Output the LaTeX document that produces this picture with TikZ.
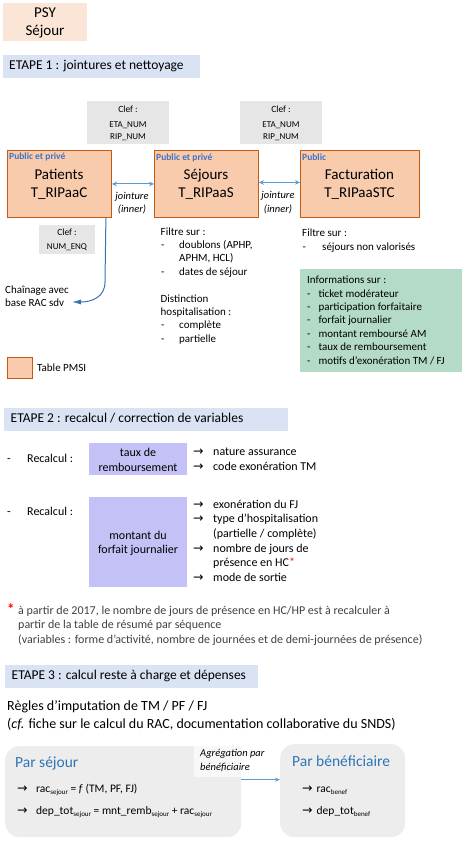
\documentclass[tikz,border=0pt]{standalone}
\usepackage{fontspec}
\setmainfont{Carlito}
\newfontfamily\symf{DejaVu Sans}
\usetikzlibrary{arrows.meta}
\definecolor{psyfill}{HTML}{FBE5D6}
\definecolor{etape}{HTML}{DAE3F3}
\definecolor{clef}{HTML}{E7E6E6}
\definecolor{tblfill}{HTML}{F8CBAD}
\definecolor{tbldraw}{HTML}{C55A11}
\definecolor{pubblue}{HTML}{4472C4}
\definecolor{jointblue}{HTML}{5B9BD5}
\definecolor{chainblue}{HTML}{3A72B0}
\definecolor{greenbox}{HTML}{B3DBC8}
\definecolor{lav}{HTML}{C3C1F5}
\definecolor{grayb}{HTML}{EDEDED}
\definecolor{lblbg}{HTML}{F8F8F8}
\definecolor{parblue}{HTML}{2E75B6}
\definecolor{fngray}{HTML}{404040}
\newcommand\fs[2]{\fontsize{#1}{#2}\selectfont}
\newcommand\ar{{\symf\fontsize{12.5}{14}\selectfont →}}
\newcommand\sbs[1]{\raisebox{-2pt}{\fontsize{7}{8}\selectfont #1}}
\begin{document}
\begin{tikzpicture}[x=1pt,y=-1pt,
  txt/.style={anchor=west,inner sep=0pt},
  f11/.style={font=\fs{11}{13.4}},
  f12/.style={font=\fs{12}{14.6}},
  rbox/.style={anchor=north west,inner sep=0pt},
  head/.style={rbox,fill=etape,minimum height=23pt},
  tbl/.style={rbox,fill=tblfill,draw=tbldraw,line width=0.9pt,minimum width=104pt,minimum height=67pt},
  tbltxt/.style={font=\fs{15}{18},align=center,inner sep=0pt},
  pub/.style={txt,font=\bfseries\fs{9.5}{11},text=pubblue},
  clefbox/.style={rbox,fill=clef},
  cleft/.style={inner sep=0pt,font=\fs{9.5}{11}},
  lavbox/.style={rbox,fill=lav,minimum width=98pt},
  joint/.style={draw=jointblue,line width=1pt,{Stealth[length=5pt,width=4.5pt]}-{Stealth[length=5pt,width=4.5pt]}},
  aggr/.style={draw=jointblue,line width=0.8pt,-{Stealth[length=5pt,width=4pt]}},
  chain/.style={draw=chainblue,line width=1pt,-{Latex[length=9pt,width=5pt]}},
  rounded/.style={rbox,fill=grayb,rounded corners=14pt}]
\useasboundingbox (0,0) rectangle (466,843);

% title
\node[rbox,fill=psyfill,minimum width=84pt,minimum height=38pt] (psy) at (3,3) {};
\node[font=\fs{15}{17.6},align=center,inner sep=0pt] (psyt) at (45,23) {PSY\\Séjour};

% ETAPE 1
\node[head,minimum width=197pt] (e1) at (3,55) {};
\node[txt,font=\fs{13.5}{16}] (e1t) at (9,66.5) {\strut ETAPE 1 : jointures et nettoyage};

\node[clefbox,minimum width=82pt,minimum height=43pt] (c1) at (87,101) {};
\node[cleft] (c1a) at (128,109) {Clef :};
\node[cleft,font=\fs{9}{11}] (c1b) at (128,125) {ETA\_NUM};
\node[cleft,font=\fs{9}{11}] (c1c) at (128,137) {RIP\_NUM};
\node[clefbox,minimum width=82pt,minimum height=43pt] (c2) at (240,101) {};
\node[cleft] (c2a) at (281,109) {Clef :};
\node[cleft,font=\fs{9}{11}] (c2b) at (281,125) {ETA\_NUM};
\node[cleft,font=\fs{9}{11}] (c2c) at (281,137) {RIP\_NUM};

\node[tbl] (pat) at (7,150) {};
\node[tbl] (sej) at (154,150) {};
\node[tbl,minimum width=119pt] (fac) at (300,150) {};
\node[pub] (p1) at (9,157) {Public et privé};
\node[pub] (p2) at (156,157.5) {Public et privé};
\node[pub] (p3) at (302,157) {Public};
\node[tbltxt] (patt) at (59,184.5) {Patients\\T\_RIPaaC};
\node[tbltxt] (sejt) at (206,184.5) {Séjours\\T\_RIPaaS};
\node[tbltxt] (fact) at (359.5,184.5) {Facturation\\T\_RIPaaSTC};

\draw[joint] (pat.east) -- (sej.west);
\draw[joint] ([yshift=1.5pt]sej.east) -- ([yshift=1.5pt]fac.west);
\node[inner sep=0pt,font=\itshape\fs{10.5}{13}] (j1a) at (132,197) {\strut jointure};
\node[inner sep=0pt,font=\itshape\fs{10.5}{13}] (j1b) at (132,210) {\strut (inner)};
\node[inner sep=0pt,font=\itshape\fs{10.5}{13}] (j2a) at (278,196) {\strut jointure};
\node[inner sep=0pt,font=\itshape\fs{10.5}{13}] (j2b) at (278,210) {\strut (inner)};

\node[clefbox,minimum width=56pt,minimum height=29pt] (c3) at (39,225) {};
\node[cleft] (c3a) at (67,232.5) {Clef :};
\node[cleft,font=\fs{9}{11}] (c3b) at (67,247.5) {NUM\_ENQ};

\coordinate (chainEnd) at (72,302);
\draw[chain] ([xshift=-6pt]pat.south east) -- (105,282) .. controls (105,297) and (92,302) .. (chainEnd);
\node[txt,f11] (ch1) at (5,290.7) {\strut Chaînage avec};
\node[txt,f11] (ch2) at (5,304.1) {\strut base RAC sdv};

% Séjours filters
\node[txt,f11] (s1) at (160.5,232.5) {\strut Filtre sur :};
\node[txt,f11] (s2d) at (161,245.9) {\strut -};
\node[txt,f11] (s2) at (179,245.9) {\strut doublons (APHP,};
\node[txt,f11] (s3) at (179,259.3) {\strut APHM, HCL)};
\node[txt,f11] (s4d) at (161,272.7) {\strut -};
\node[txt,f11] (s4) at (179,272.7) {\strut dates de séjour};
\node[txt,f11] (s5) at (160.5,299.5) {\strut Distinction};
\node[txt,f11] (s6) at (160.5,312.9) {\strut hospitalisation :};
\node[txt,f11] (s7d) at (161,326.3) {\strut -};
\node[txt,f11] (s7) at (179,326.3) {\strut complète};
\node[txt,f11] (s8d) at (161,339.7) {\strut -};
\node[txt,f11] (s8) at (179,339.7) {\strut partielle};

% Facturation filters
\node[txt,f11] (fa1) at (302,234) {\strut Filtre sur :};
\node[txt,f11] (fa2d) at (302.5,247.4) {\strut -};
\node[txt,f11] (fa2) at (322,247.4) {\strut séjours non valorisés};

\node[rbox,fill=greenbox,minimum width=162pt,minimum height=103pt] (gb) at (300,269) {};
\node[txt,f11] (g0) at (307,281) {\strut Informations sur :};
\foreach \t [count=\i] in {ticket modérateur,participation forfaitaire,forfait journalier,montant remboursé AM,taux de remboursement,motifs d’exonération TM / FJ}{
  \node[txt,f11] (gd\i) at (307,281+13.4*\i) {\strut -};
  \node[txt,f11] (g\i) at (318.3,281+13.4*\i) {\strut \t};
}

\node[tbl,minimum width=25pt,minimum height=21pt] (leg) at (7,357) {};
\node[txt,f11] (legt) at (37,368.5) {\strut Table PMSI};

% ETAPE 2
\node[head,minimum width=284pt] (e2) at (4,408) {};
\node[txt,font=\fs{13.5}{16}] (e2t) at (10.5,419.5) {\strut ETAPE 2 : recalcul / correction de variables};

\node[txt,f12] (r1d) at (7,460) {\strut -};
\node[txt,f12] (r1) at (27,460) {\strut Recalcul :};
\node[txt,f12] (r2d) at (7,513) {\strut -};
\node[txt,f12] (r2) at (27,513) {\strut Recalcul :};

\node[lavbox,minimum height=32pt] (lv1) at (89,443) {};
\node[font=\fs{12}{15},align=center,inner sep=0pt] (lv1t) at (138,460) {taux de\\remboursement};
\node[lavbox,minimum height=90pt] (lv2) at (89,497) {};
\node[font=\fs{12}{14},align=center,inner sep=0pt] (lv2t) at (138,543.5) {montant du\\forfait journalier};

\node[txt,f12] (a1) at (193,452.3) {\strut\ar};
\node[txt,f12] (t1) at (213,452.3) {\strut nature assurance};
\node[txt,f12] (a2) at (193,467.3) {\strut\ar};
\node[txt,f12] (t2) at (213,467.3) {\strut code exonération TM};

\node[txt,f12] (a3) at (193,505.3) {\strut\ar};
\node[txt,f12] (t3) at (213,505.3) {\strut exonération du FJ};
\node[txt,f12] (a4) at (193,519.9) {\strut\ar};
\node[txt,f12] (t4) at (213,519.9) {\strut type d’hospitalisation};
\node[txt,f12] (t5) at (213,534.5) {\strut (partielle / complète)};
\node[txt,f12] (a6) at (193,549.1) {\strut\ar};
\node[txt,f12] (t6) at (213,549.1) {\strut nombre de jours de};
\node[txt,f12] (t7) at (213,563.7) {\strut présence en HC{\color{red}*}};
\node[txt,f12] (a8) at (193,578.3) {\strut\ar};
\node[txt,f12] (t8) at (213,578.3) {\strut mode de sortie};

\node[txt,font=\bfseries\fs{15}{16},text=red] (star) at (7,609) {*};
\node[txt,f12,text=fngray] (fn1) at (18,611.3) {\strut à partir de 2017, le nombre de jours de présence en HC/HP est à recalculer à};
\node[txt,f12,text=fngray] (fn2) at (18,625.9) {\strut partir de la table de résumé par séquence};
\node[txt,f12,text=fngray] (fn3) at (18,640.5) {\strut (variables : forme d’activité, nombre de journées et de demi-journées de présence)};

% ETAPE 3
\node[head,minimum width=253pt] (e3) at (5,665) {};
\node[txt,font=\fs{13.5}{16}] (e3t) at (11.5,676.5) {\strut ETAPE 3 : calcul reste à charge et dépenses};
\node[txt,font=\fs{14}{17}] (rg1) at (7,707) {\strut Règles d’imputation de TM / PF / FJ};
\node[txt,font=\fs{14}{17}] (rg2) at (7,725) {\strut (\textit{cf.} fiche sur le calcul du RAC, documentation collaborative du SNDS)};

\node[rounded,minimum width=236pt,minimum height=91pt] (ps) at (5,746) {};
\node[rounded,minimum width=125pt,minimum height=93pt] (pb) at (280,744) {};
\node[rbox,fill=lblbg,minimum width=47pt,minimum height=31pt] (lbl) at (194,746) {};
\node[txt,font=\itshape\fs{10.5}{13}] (lbl1) at (200,754) {\strut Agrégation par};
\node[txt,font=\itshape\fs{10.5}{13}] (lbl2) at (200,767.5) {\strut bénéficiaire};
\draw[aggr] ([yshift=12pt]ps.east) -- ([yshift=11pt]pb.west);

\node[txt,font=\fs{15.5}{18},text=parblue] (pst) at (15,764) {\strut Par séjour};
\node[txt,font=\fs{11.5}{14}] (pa1) at (17,790) {\strut\ar};
\node[txt,font=\fs{11.5}{14}] (pr1) at (36,790) {\strut rac\sbs{sejour} = \textit{f} (TM, PF, FJ)};
\node[txt,font=\fs{11.5}{14}] (pa2) at (17,812) {\strut\ar};
\node[txt,font=\fs{11.5}{14}] (pr2) at (36,812) {\strut dep\_tot\sbs{sejour} = mnt\_remb\sbs{sejour} + rac\sbs{sejour}};

\node[txt,font=\fs{15.5}{18},text=parblue] (pbt) at (292,763) {\strut Par bénéficiaire};
\node[txt,font=\fs{11.5}{14}] (pa3) at (302,790) {\strut\ar};
\node[txt,font=\fs{11.5}{14}] (pr3) at (316.5,790) {\strut rac\sbs{benef}};
\node[txt,font=\fs{11.5}{14}] (pa4) at (302,812) {\strut\ar};
\node[txt,font=\fs{11.5}{14}] (pr4) at (316.5,812) {\strut dep\_tot\sbs{benef}};
\end{tikzpicture}
\end{document}
